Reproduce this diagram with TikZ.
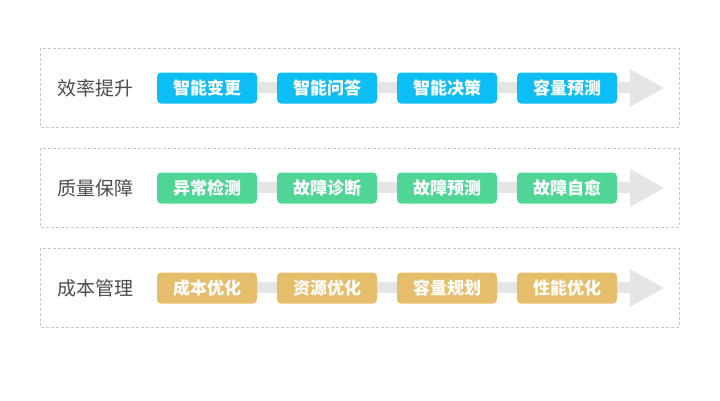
\documentclass[tikz,border=0pt]{standalone}
\usepackage{fontspec}
\newfontfamily\cjk{Noto Sans CJK SC}
\begin{document}
\begin{tikzpicture}[x=1pt,y=-1pt,
  rowbox/.style={draw=black!22, dashed, dash pattern=on 3pt off 2pt, line width=0.8pt},
  pill/.style={rounded corners=4pt, minimum width=100pt, minimum height=31pt, inner sep=0pt, text=white, font=\cjk\bfseries\fontsize{17}{17}\selectfont},
  title/.style={text=black!70, font=\cjk\fontsize{19}{19}\selectfont, anchor=west},
  bar/.style={fill=black!10, draw=none}
]
\definecolor{cblue}{HTML}{0DBDF5}
\definecolor{cgreen}{HTML}{4FD596}
\definecolor{cgold}{HTML}{E6BD6A}
\useasboundingbox (0,0) rectangle (720,400);
\fill[white] (0,0) rectangle (720,400);
\foreach \r/\cy/\col/\t/\a/\b/\c/\d in {1/88/cblue/效率提升/智能变更/智能问答/智能决策/容量预测, 2/188/cgreen/质量保障/异常检测/故障诊断/故障预测/故障自愈, 3/288/cgold/成本管理/成本优化/资源优化/容量规划/性能优化}{
  \draw[rowbox] (40,\cy-40) rectangle (679,\cy+39);
  \fill[bar] (160,\cy-6) rectangle (631,\cy+5);
  \fill[bar] (630,\cy-19) -- (664,\cy) -- (630,\cy+19) -- cycle;
  \node[title] (t\r) at (54,\cy) {\t};
  \node[pill, fill=\col] (p\r a) at (207,\cy) {\a};
  \node[pill, fill=\col] (p\r b) at (327,\cy) {\b};
  \node[pill, fill=\col] (p\r c) at (447,\cy) {\c};
  \node[pill, fill=\col] (p\r d) at (567,\cy) {\d};
}
\end{tikzpicture}
\end{document}
